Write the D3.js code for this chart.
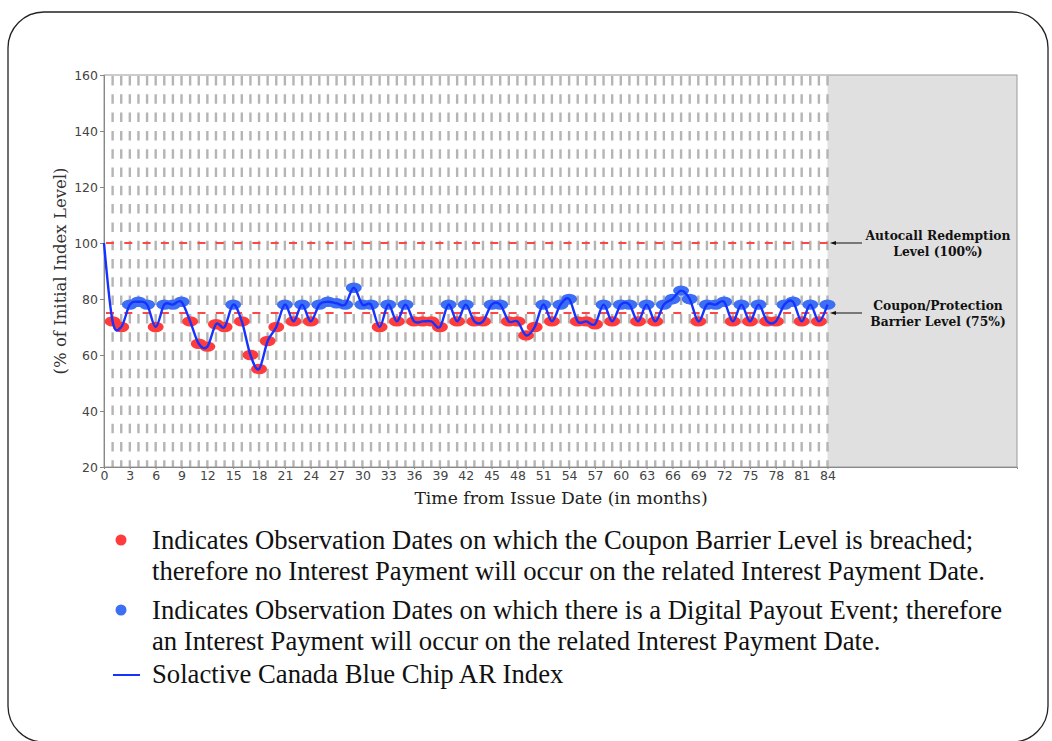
<!DOCTYPE html>
<html>
<head>
<meta charset="utf-8">
<script src="https://cdn.jsdelivr.net/npm/d3@7"></script>
<style>
  body { margin: 0; background: #fff; }
  svg { display: block; }
</style>
</head>
<body>
<svg id="chart" width="1052" height="741"></svg>
<script>
//////////////////////////////////////
// Data

// index level (% of initial) at each month from issue, month 0 .. 84
const indexLevel = [100,
  72, 70, 78, 79, 78, 70, 78, 78, 79, 72, 64, 63, 71, 70, 78, 72, 60, 55, 65, 70,
  78, 72, 78, 72, 78, 79, 78.5, 78, 84, 78, 78, 70, 78, 72, 78, 72, 72, 72, 70, 78,
  72, 78, 72, 72, 78, 78, 72, 72, 67, 70, 78, 72, 78, 80, 72, 72, 71, 78, 72, 78,
  78, 72, 78, 72, 78, 80, 83, 80, 72, 78, 78, 79, 72, 78, 72, 78, 72, 72, 78, 79,
  72, 78, 72, 78];
const xTicks = [0,3,6,9,12,15,18,21,24,27,30,33,36,39,42,45,48,51,54,57,60,63,66,69,72,75,78,81,84];
const yTicks = [20,40,60,80,100,120,140,160];
const levels = [
  {value: 100, label: ["Autocall Redemption", "Level (100%)"]},
  {value: 75, label: ["Coupon/Protection", "Barrier Level (75%)"]}
];
const legendItems = [
  {type: "red", lines: ["Indicates Observation Dates on which the Coupon Barrier Level is breached;",
                        "therefore no Interest Payment will occur on the related Interest Payment Date."]},
  {type: "blue", lines: ["Indicates Observation Dates on which there is a Digital Payout Event; therefore",
                         "an Interest Payment will occur on the related Interest Payment Date."]},
  {type: "line", lines: ["Solactive Canada Blue Chip AR Index"]}
];
const barrier = 75;
const lastMonth = 84;
const xMax = 106;

const series = indexLevel.map((v, i) => ({month: i, value: v}));
const observations = series.filter(d => d.month > 0);

//////////////////////////////////////
// Layout

const svg = d3.select("#chart");
const plot = {left: 104, top: 75, right: 1017, bottom: 467};

const x = d3.scaleLinear().domain([0, xMax]).range([plot.left, plot.right]);
const y = d3.scaleLinear().domain([20, 160]).range([plot.bottom, plot.top]);

const redCol = "#ff3b3b", blueCol = "#3d6ff5", lineCol = "#1532ff";

// outer rounded frame
svg.append("rect")
  .attr("x", 8).attr("y", 12).attr("width", 1040).attr("height", 730)
  .attr("rx", 36).attr("ry", 36)
  .attr("fill", "none").attr("stroke", "#222").attr("stroke-width", 1.3);

// shaded region after maturity
svg.append("rect")
  .attr("x", x(lastMonth)).attr("y", plot.top)
  .attr("width", plot.right - x(lastMonth)).attr("height", plot.bottom - plot.top)
  .attr("fill", "#e0e0e0");

// monthly dashed grid
svg.append("g")
  .selectAll("line")
  .data(observations)
  .join("line")
  .attr("x1", d => x(d.month)).attr("x2", d => x(d.month))
  .attr("y1", plot.top + 1).attr("y2", plot.bottom)
  .attr("stroke", "#b5b5b5").attr("stroke-width", 2.4)
  .attr("stroke-dasharray", "9.5,8.8");

// plot frame
svg.append("rect")
  .attr("x", plot.left).attr("y", plot.top)
  .attr("width", plot.right - plot.left).attr("height", plot.bottom - plot.top)
  .attr("fill", "none").attr("stroke", "#9a9a9a").attr("stroke-width", 1);

// level lines
svg.append("g")
  .selectAll("line")
  .data(levels)
  .join("line")
  .attr("x1", plot.left + 2).attr("x2", x(lastMonth))
  .attr("y1", d => y(d.value)).attr("y2", d => y(d.value))
  .attr("stroke", "#ff4646").attr("stroke-width", 2.2)
  .attr("stroke-dasharray", "8,10.3");

// axes
const yAxis = svg.append("g")
  .attr("transform", `translate(${plot.left},0)`)
  .call(d3.axisLeft(y).tickValues(yTicks).tickSize(4).tickPadding(2));
const xAxis = svg.append("g")
  .attr("transform", `translate(0,${plot.bottom})`)
  .call(d3.axisBottom(x).tickValues(xTicks).tickSize(2).tickPadding(2));

[yAxis, xAxis].forEach(a => {
  a.select(".domain").attr("stroke", "#888");
  a.selectAll(".tick line").attr("stroke", "#888");
  a.selectAll("text")
    .attr("font-family", "'DejaVu Sans', sans-serif")
    .attr("font-size", 12.5)
    .attr("fill", "#444");
});

// axis titles
svg.append("text")
  .attr("transform", `translate(66,${(plot.top + plot.bottom) / 2}) rotate(-90)`)
  .attr("text-anchor", "middle")
  .attr("font-family", "'DejaVu Serif', serif")
  .attr("font-size", 16.5)
  .attr("fill", "#333")
  .text("(% of Initial Index Level)");

svg.append("text")
  .attr("x", 561).attr("y", 504)
  .attr("text-anchor", "middle")
  .attr("font-family", "'DejaVu Serif', serif")
  .attr("font-size", 17.2)
  .attr("fill", "#222")
  .text("Time from Issue Date (in months)");

// observation points
svg.append("g")
  .selectAll("ellipse")
  .data(observations)
  .join("ellipse")
  .attr("cx", d => x(d.month)).attr("cy", d => y(d.value))
  .attr("rx", 8).attr("ry", 5.2)
  .attr("fill", d => d.value < barrier ? redCol : blueCol);

// index line
const line = d3.line()
  .x(d => x(d.month))
  .y(d => y(d.value))
  .curve(d3.curveCardinal);

svg.append("path")
  .datum(series)
  .attr("d", line)
  .attr("fill", "none")
  .attr("stroke", lineCol)
  .attr("stroke-width", 2.4);

// level annotations
svg.append("defs").append("marker")
  .attr("id", "arrow")
  .attr("viewBox", "0 0 10 10")
  .attr("refX", 1).attr("refY", 5)
  .attr("markerWidth", 7).attr("markerHeight", 7)
  .attr("orient", "auto-start-reverse")
  .append("path").attr("d", "M0,2 L9,5 L0,8 Z").attr("fill", "#111");

const notes = svg.append("g").selectAll("g").data(levels).join("g");
notes.append("line")
  .attr("x1", 862).attr("x2", x(lastMonth) + 8)
  .attr("y1", d => y(d.value)).attr("y2", d => y(d.value))
  .attr("stroke", "#111").attr("stroke-width", 1)
  .attr("marker-end", "url(#arrow)");
notes.append("text")
  .attr("x", 938)
  .attr("y", d => y(d.value) - 3)
  .attr("text-anchor", "middle")
  .attr("font-family", "'DejaVu Serif', serif")
  .attr("font-size", 12.3)
  .attr("font-weight", "bold")
  .attr("fill", "#111")
  .selectAll("tspan")
  .data(d => d.label)
  .join("tspan")
  .attr("x", 938)
  .attr("dy", (d, i) => i === 0 ? 0 : 15.5)
  .text(d => d);

// legend
const legendTop = [549, 619, 683];
const legend = svg.append("g").selectAll("g").data(legendItems).join("g")
  .attr("transform", (d, i) => `translate(0,${legendTop[i]})`);

legend.filter(d => d.type !== "line").append("circle")
  .attr("cx", 121).attr("cy", -9).attr("r", 5.5)
  .attr("fill", d => d.type === "red" ? redCol : blueCol);
legend.filter(d => d.type === "line").append("line")
  .attr("x1", 113).attr("x2", 140).attr("y1", -8).attr("y2", -8)
  .attr("stroke", lineCol).attr("stroke-width", 2);

legend.append("text")
  .attr("font-family", "'Liberation Serif', 'Times New Roman', serif")
  .attr("font-size", 26.7)
  .attr("fill", "#111")
  .selectAll("tspan")
  .data(d => d.lines)
  .join("tspan")
  .attr("x", 152)
  .attr("dy", (d, i) => i === 0 ? 0 : 31)
  .text(d => d);
</script>
</body>
</html>
